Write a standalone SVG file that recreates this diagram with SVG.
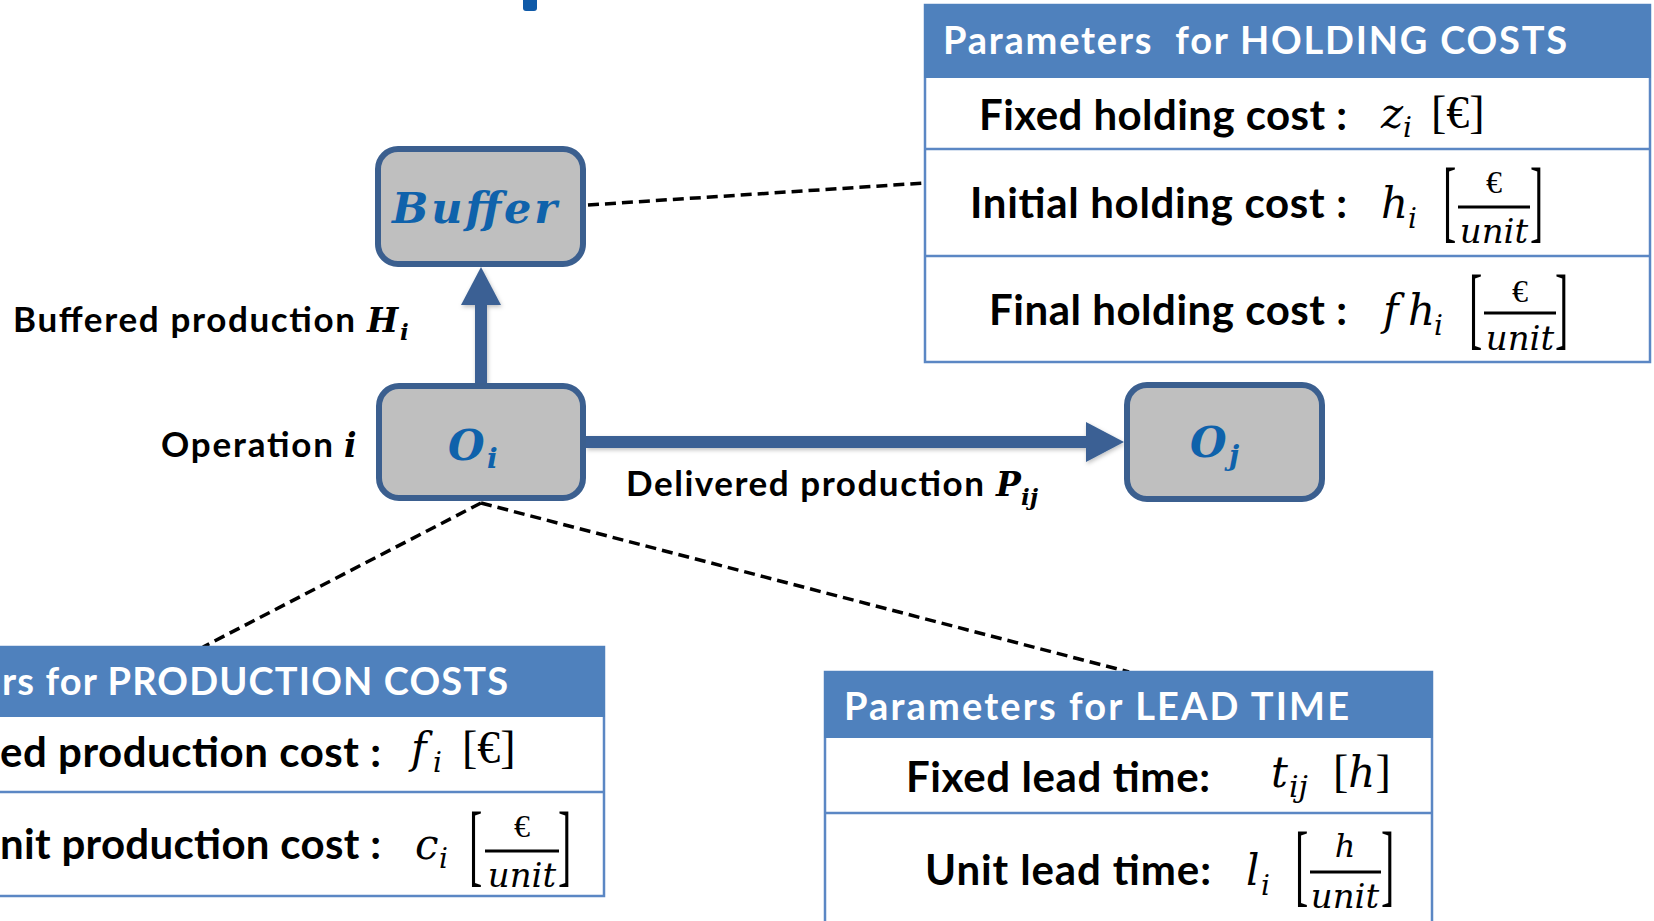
<svg xmlns="http://www.w3.org/2000/svg" width="1654" height="921" viewBox="0 0 1654 921">
  <style>
    .node rect { fill: #bfbfbf; stroke: #3b5f8f; stroke-width: 6; }
    .nodeLabel { font-family: "DejaVu Serif", "Liberation Serif", serif; font-weight: bold; font-style: italic; fill: #0f62ab; }
    .lbl { font-family: Lato, "Liberation Sans", sans-serif; font-weight: 700; fill: #000; }
    .mathB { font-family: "DejaVu Serif", "Liberation Serif", serif; font-weight: bold; font-style: italic; fill: #000; }
    .math { font-family: "DejaVu Serif", "Liberation Serif", serif; font-style: italic; fill: #000; }
    .mathR { font-family: "Liberation Serif", "DejaVu Serif", serif; fill: #000; }
    .it { font-family: "DejaVu Serif", "Liberation Serif", serif; font-style: italic; }
    .head { fill: #4f81bd; }
    .headText { font-family: Lato, "Liberation Sans", sans-serif; font-weight: 700; fill: #fff; font-size: 38px; }
    .rowText { font-size: 42px; }
    .tbl { fill: #fff; stroke: #5b87c4; stroke-width: 2.5; }
    .sep { stroke: #5b87c4; stroke-width: 2.5; }
    .bar { stroke: #000; stroke-width: 3; }
    .dash { stroke: #000; stroke-width: 3.5; stroke-dasharray: 11 6; fill: none; }
    .flow { stroke: #3a6194; stroke-width: 12; fill: none; }
  </style>
  <defs>
    <marker id="arrowHead" markerUnits="userSpaceOnUse" markerWidth="40" markerHeight="40" refX="0" refY="20" orient="auto">
      <path d="M0,0 L38,20 L0,40 Z" fill="#3a6194"/>
    </marker>
    <filter id="softShadow" filterUnits="userSpaceOnUse" x="0" y="0" width="1654" height="921">
      <feDropShadow dx="1" dy="2" stdDeviation="2" flood-color="#000" flood-opacity="0.25"/>
    </filter>
  </defs>

  <rect width="1654" height="921" fill="#fff"/>

  <!-- descender of the heading above -->
  <rect x="523" y="-8" width="14" height="19" rx="3" fill="#0f5aa8"/>

  <!-- dashed links from nodes to their parameter tables, and the two flows -->
  <g id="connectors">
    <line class="dash" x1="588" y1="205" x2="925" y2="183"/>
    <line class="dash" x1="481" y1="503" x2="203" y2="647"/>
    <line class="dash" x1="481" y1="503" x2="1129" y2="672"/>
    <line class="flow" x1="481" y1="383" x2="481" y2="305" marker-end="url(#arrowHead)" filter="url(#softShadow)"/>
    <line class="flow" x1="586" y1="442" x2="1086" y2="442" marker-end="url(#arrowHead)" filter="url(#softShadow)"/>
  </g>

  <!-- nodes -->
  <g id="buffer" class="node">
    <rect x="378" y="149" width="205" height="115" rx="20"/>
    <text class="nodeLabel" x="392" y="223" font-size="43" textLength="165">Buffer</text>
  </g>
  <g id="op-i" class="node">
    <rect x="379" y="386" width="204" height="112" rx="20"/>
    <text class="nodeLabel" x="448" y="460" font-size="42">O</text>
    <text class="nodeLabel" x="487" y="468" font-size="28">i</text>
  </g>
  <g id="op-j" class="node">
    <rect x="1127" y="385" width="195" height="114" rx="20"/>
    <text class="nodeLabel" x="1190" y="457" font-size="42">O</text>
    <text class="nodeLabel" x="1229" y="465" font-size="28">j</text>
  </g>

  <!-- flow labels -->
  <g id="label-buffered">
    <text class="lbl" x="13" y="332" font-size="35" textLength="342">Buffered production</text>
    <text class="mathB" x="367" y="332" font-size="33">H</text>
    <text class="mathB" x="400" y="340" font-size="23">i</text>
  </g>
  <g id="label-operation">
    <text class="lbl" x="161" y="457" font-size="35" textLength="172">Operation</text>
    <text class="mathB" x="344" y="457" font-size="33">i</text>
  </g>
  <g id="label-delivered">
    <text class="lbl" x="626" y="496" font-size="35" textLength="358">Delivered production</text>
    <text class="mathB" x="996" y="496" font-size="33">P</text>
    <text class="mathB" x="1021" y="505" font-size="23">ij</text>
  </g>

  <!-- holding cost parameters -->
  <g id="table-holding">
    <rect class="tbl" x="925" y="5" width="725" height="357"/>
    <rect class="head" x="924" y="4" width="727" height="74"/>
    <line class="sep" x1="925" y1="149" x2="1650" y2="149"/>
    <line class="sep" x1="925" y1="256" x2="1650" y2="256"/>
    <text class="headText" x="943" y="54" textLength="624" xml:space="preserve" style="white-space:pre">Parameters  for HOLDING COSTS</text>

    <text class="lbl rowText" x="979" y="130" textLength="368">Fixed holding cost :</text>
    <text class="math" x="1381" y="128" font-size="42">z</text>
    <text class="math" x="1403" y="137" font-size="28">i</text>
    <text class="mathR" x="1431" y="128" font-size="46">[€]</text>

    <text class="lbl rowText" x="970" y="218" textLength="377">Initial holding cost :</text>
    <text class="math" x="1381" y="218" font-size="42">h</text>
    <text class="math" x="1408" y="228" font-size="28">i</text>
    <text class="mathR" font-size="40" transform="matrix(1 0 0 2.3 1443 230.6)">[</text>
    <text class="mathR" font-size="40" transform="matrix(1 0 0 2.3 1530 230.6)">]</text>
    <text class="mathR" x="1494" y="193" font-size="32" text-anchor="middle">€</text>
    <line class="bar" x1="1458" y1="207" x2="1530" y2="207"/>
    <text class="math" x="1494" y="243" font-size="34" text-anchor="middle">unit</text>

    <text class="lbl rowText" x="989" y="325" textLength="358">Final holding cost :</text>
    <text class="math" x="1383" y="325" font-size="42">f</text>
    <text class="math" x="1408" y="325" font-size="42">h</text>
    <text class="math" x="1434" y="335" font-size="28">i</text>
    <text class="mathR" font-size="40" transform="matrix(1 0 0 2.3 1469 337.6)">[</text>
    <text class="mathR" font-size="40" transform="matrix(1 0 0 2.3 1555 337.6)">]</text>
    <text class="mathR" x="1520" y="302" font-size="32" text-anchor="middle">€</text>
    <line class="bar" x1="1484" y1="313" x2="1556" y2="313"/>
    <text class="math" x="1520" y="350" font-size="34" text-anchor="middle">unit</text>
  </g>

  <!-- production cost parameters -->
  <g id="table-production">
    <rect class="tbl" x="-10" y="647" width="614" height="249"/>
    <rect class="head" x="-10" y="646" width="615" height="71"/>
    <line class="sep" x1="-10" y1="792" x2="604" y2="792"/>
    <text class="headText" x="2" y="695" textLength="506">rs for PRODUCTION COSTS</text>

    <text class="lbl rowText" x="0" y="767" textLength="381">ed production cost :</text>
    <text class="math" x="411" y="763" font-size="42">f</text>
    <text class="math" x="433" y="772" font-size="28">i</text>
    <text class="mathR" x="462" y="763" font-size="46">[€]</text>

    <text class="lbl rowText" x="0" y="859" textLength="381">nit production cost :</text>
    <text class="math" x="415" y="859" font-size="42">c</text>
    <text class="math" x="439" y="868" font-size="28">i</text>
    <text class="mathR" font-size="40" transform="matrix(1 0 0 2.3 469 874.6)">[</text>
    <text class="mathR" font-size="40" transform="matrix(1 0 0 2.3 558 874.6)">]</text>
    <text class="mathR" x="522" y="837" font-size="32" text-anchor="middle">€</text>
    <line class="bar" x1="485" y1="851" x2="559" y2="851"/>
    <text class="math" x="522" y="887" font-size="34" text-anchor="middle">unit</text>
  </g>

  <!-- lead time parameters -->
  <g id="table-leadtime">
    <rect class="tbl" x="825" y="672" width="607" height="270"/>
    <rect class="head" x="824" y="671" width="609" height="67"/>
    <line class="sep" x1="825" y1="813" x2="1432" y2="813"/>
    <text class="headText" x="844" y="720" textLength="505">Parameters for LEAD TIME</text>

    <text class="lbl rowText" x="906" y="792" textLength="304">Fixed lead time:</text>
    <text class="math" x="1271" y="787" font-size="42">t</text>
    <text class="math" x="1289" y="797" font-size="30">ij</text>
    <text class="mathR" x="1333" y="787" font-size="46">[<tspan class="it" font-size="42">h</tspan>]</text>

    <text class="lbl rowText" x="925" y="885" textLength="286">Unit lead time:</text>
    <text class="math" x="1246" y="885" font-size="42">l</text>
    <text class="math" x="1261" y="895" font-size="28">i</text>
    <text class="mathR" font-size="40" transform="matrix(1 0 0 2.3 1295 894.6)">[</text>
    <text class="mathR" font-size="40" transform="matrix(1 0 0 2.3 1381 894.6)">]</text>
    <text class="math" x="1345" y="857" font-size="32" text-anchor="middle">h</text>
    <line class="bar" x1="1310" y1="872" x2="1381" y2="872"/>
    <text class="math" x="1345" y="908" font-size="34" text-anchor="middle">unit</text>
  </g>
</svg>
